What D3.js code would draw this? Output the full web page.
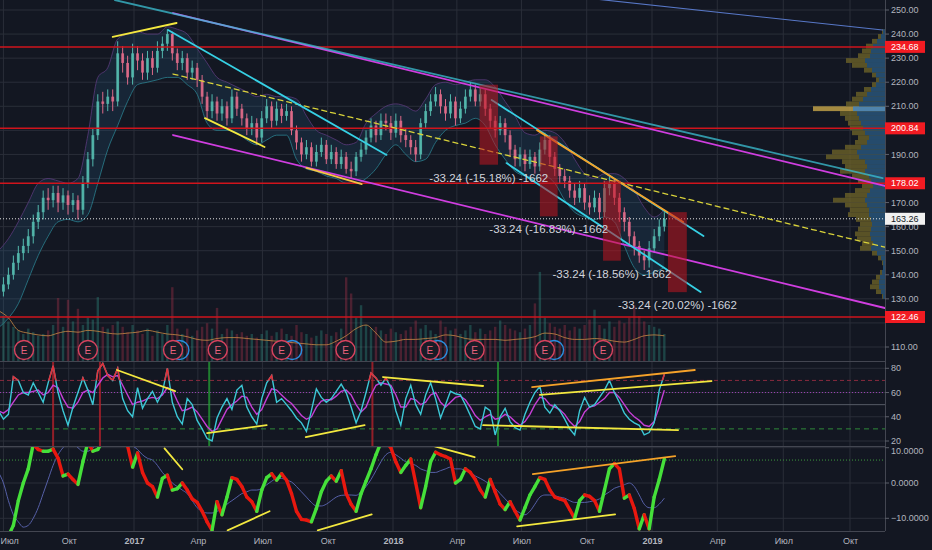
<!doctype html>
<html>
<head>
<meta charset="utf-8">
<title>Price chart with RSI and oscillator</title>
<script src="https://cdn.jsdelivr.net/npm/d3@7"></script>
<style>
  html, body { margin: 0; padding: 0; background: #131722; }
  svg { display: block; font-family: "Liberation Sans", Arial, sans-serif; }
</style>
</head>
<body>
<script>
// ---- data (weekly bars from 2016-06-24) ----
const firstWeek = "2016-06-24";
const firstOpen = 130;
const closes = [
  133,136,140,145,149,152,156,162,166,172,171,174,170,173,
  169,171,167,178,188,198,212,211,214,212,232,228,222,
  232,229,224,230,226,233,236,240,232,228,230,224,226,
  221,214,208,212,207,210,205,214,209,205,201,203,197,
  205,210,204,209,206,208,200,195,190,193,187,191,194,
  188,191,186,189,184,183,189,192,197,202,198,204,203,
  199,204,198,196,193,190,203,208,212,215,210,207,212,
  205,209,214,217,212,215,209,204,200,203,198,192,188,
  190,186,189,185,192,196,189,184,181,179,175,172,176,
  170,168,172,166,176,178,172,166,162,156,152,148,146,
  151,156,160,163.26];
const highs = [
  136,139,143,148,152,155,159,165,169,175,176,177,177,176,
  175,174,173,181,191,201,215,216,217,217,237,235,231,
  236,235,232,233,233,237,239,242,241,234,233,232,229,
  228,223,216,215,214,213,212,217,216,211,207,206,205,
  208,213,212,212,211,211,210,202,197,196,195,194,197,
  196,194,193,192,191,187,191,195,200,205,204,207,207,
  206,207,206,201,198,196,205,211,215,218,217,213,215,
  214,212,217,220,219,218,217,211,206,206,205,200,194,
  193,192,192,191,195,199,198,191,186,184,181,178,179,
  178,173,175,174,179,181,180,174,168,164,158,154,150,
  154,159,163,166];
const lows = [
  127,131,134,138,142,146,149,153,159,163,167,168,166,167,
  165,166,163,165,176,185,196,207,208,208,210,224,219,
  219,225,221,221,223,224,230,233,229,225,225,221,221,
  218,211,205,205,204,204,202,203,206,202,198,198,194,
  195,203,201,202,203,204,198,192,187,188,185,185,189,
  186,186,184,184,182,180,181,187,190,195,195,196,200,
  196,197,195,193,190,187,188,201,206,210,207,204,205,
  202,203,207,212,210,210,206,201,197,198,195,189,185,
  185,183,184,182,183,190,186,181,178,176,172,169,170,
  167,165,166,163,164,173,169,162,158,152,148,145,142,
  143,149,154,158];
const volumes = [
  52,50,44,38,34,30,36,32,28,30,34,40,70,38,
  68,44,58,40,48,46,71,38,36,40,44,38,32,
  40,34,30,36,28,34,30,40,82,36,30,36,28,
  34,38,42,36,59,30,36,34,30,32,28,30,26,
  30,34,28,32,36,30,28,40,32,30,26,28,34,
  30,28,32,36,93,75,48,62,40,36,38,34,30,
  36,32,30,34,38,45,36,40,34,30,45,38,34,
  36,30,34,40,32,36,30,34,38,45,40,36,34,
  32,36,40,64,99,48,42,38,36,40,34,38,36,
  40,46,57,40,36,44,38,45,42,48,62,50,44,
  40,38,36,30];
// every second week
const volumeAvg = [
  56,48,34,31,29,28,31,33,32,34,
  33,31,30,31,32,34,32,30,29,27,
  24,23,25,26,26,25,24,23,22,21,
  20,19,18,18,22,28,36,40,31,21,
  22,24,24,25,26,29,28,25,24,24,
  24,23,24,25,27,31,30,26,24,24,
  25,24,22,21,24,28,29,28];
const bandUpper = [
  150,155,162,170,178,180,179,178,180,198,
  222,226,238,240,241,240,240,243,242,240,
  234,228,222,220,218,216,214,215,214,214,
  213,206,200,198,196,194,195,203,207,210,
  211,210,208,213,219,220,219,220,221,221,
  218,212,206,199,198,200,199,195,188,182,
  180,182,182,180,175,168,164,167];
const bandLower = [
  118,122,128,138,148,156,162,163,162,165,
  178,192,202,212,219,220,221,222,222,219,
  215,203,200,200,199,196,194,196,198,198,
  188,184,183,181,180,178,178,180,184,190,
  194,190,187,188,195,200,202,203,205,202,
  194,188,183,181,180,181,178,171,166,164,
  163,164,162,152,143,140,141,143];
const rsi = [
  45,38,42,73,70,60,58,68,60,52,68,82,60,45,
  33,48,60,72,62,50,78,84,74,70,80,55,45,
  40,64,47,55,61,52,60,80,52,40,34,55,50,
  37,30,22,20,39,48,55,46,62,66,48,40,34,
  55,68,74,52,55,50,45,39,35,28,45,63,56,
  52,55,61,67,60,48,35,45,60,76,72,66,72,
  64,45,33,55,66,50,42,58,68,55,39,50,61,
  59,58,50,41,32,30,48,45,25,40,47,36,31,
  29,42,52,60,65,48,43,50,45,38,30,25,45,
  56,48,50,56,62,70,60,52,43,38,35,33,25,
  27,35,62,75];
const rsiAvg = [
  45,43,46,52,58,60,60,61,62,58,60,66,64,55,
  48,47,52,60,62,60,66,72,75,73,74,66,58,
  50,52,53,55,56,55,58,64,62,53,45,46,48,
  44,38,32,28,30,38,46,50,53,57,56,48,42,
  46,55,63,62,58,54,51,46,41,38,40,48,53,
  54,54,57,61,62,58,50,44,48,58,66,68,67,
  66,58,48,48,55,54,50,52,58,60,52,48,52,
  56,57,54,48,41,37,40,42,38,39,42,40,36,
  33,36,42,50,56,55,50,48,46,42,36,32,36,
  44,48,49,52,55,60,60,56,50,44,40,37,33,
  32,36,48,62];
const osc = [
  -16,-16,-15,-12,-5,0,4,11,9.5,9,9,9.6,7,2,
  2.5,1,-0.4,6,11.5,9,9.5,12,14,14,15,13,10.5,
  4.5,8.5,3,0,-1,-4,1.3,2.2,-2,-1.6,0,-2,-4.5,
  -5.5,-8,-11,-13.4,-5.3,-9,-4,1.5,1,-1,-4,-5.3,-8,
  -2,1.5,2.6,0.8,2.6,0.8,-3,-8,-10.3,-10.5,-11,-7.2,-2.5,
  0.5,2,0.5,3.5,-3,-6,-8,-3,0.5,4,8,11.5,11.5,
  10,6,3,5,6.8,0,-7,-1,6,8.7,8,7.5,6.8,
  0,1,4,3,1,-2,-4,1,-2.5,-6,-7.5,-5.3,-8,
  -10.5,-7,-3.4,-1,1.5,1,-2,-4,-4.5,-5,-7.5,-10,-5,
  -3.4,-3.8,-5,-8,-2,4,5.5,4,-4.3,-3.4,-7.2,-13,-9,
  -13,-4,1,6.8];
const oscSignal = [
  3,0,-5,-9,-11,-12.5,-12,-10,-7,-3,1,5,8,10,
  11,11,10,9,9,10,11,12,12,12,12,12,11.5,
  10.5,9.5,8,7,6.5,5,3,1.5,0,-1,-2,-3,-5,
  -7,-8,-8.5,-8.5,-8,-7.5,-6,-5,-4,-3,-2.5,-2,-2,
  -1.6,-0.5,0.5,1.3,1.3,0.8,0.3,-1,-2.5,-4,-5.5,-6.5,-6.5,
  -6,-5,-4,-3.5,-3.4,-3.4,-3.5,-2.5,-1,1,3.5,6,8,
  8.7,8,7,6,5.5,5,4,3.5,3,3,3.5,4,4.5,
  4,4,3.5,3,2,1.3,0.5,-0.5,-1.5,-3,-4.5,-6,-7.5,
  -8.5,-9,-8,-6,-4,-3.4,-3.4,-3.6,-4,-4.3,-5,-5.5,-5.5,
  -5.5,-5.3,-5,-4.5,-3.4,-2.5,-1.5,-1,-0.5,0,-1,-3.4,-6,
  -7,-7,-6,-4.3];

// volume profile (price bin centre, total, buy part)
const profPrices = [131,133,135,137,139,141,143,145,147,149,151,153,155,157,159,161,163,165,167,169,
  171,173,175,177,179,181,183,185,187,189,191,193,195,197,199,201,203,205,207,209,
  211,213,215,217,219,221,223,225,227,229,231,233,235,237,239,241];
const profTotal = [3,9,15,13,9,5,2,3,7,13,25,23,28,30,27,25,29,37,35,40,
  52,40,30,23,27,33,45,40,43,59,53,40,30,27,33,35,37,40,45,72,
  39,33,29,21,13,9,13,21,33,39,27,23,19,13,7,3];
const profUp = [2,4,6,6,5,3,2,2,4,8,14,12,14,15,14,13,14,16,16,18,
  20,18,15,12,14,16,20,18,20,26,28,24,18,16,20,22,24,26,28,32,
  26,22,18,14,9,6,9,13,18,20,15,14,12,8,4,2];

const levelPrices = [234.68, 200.84, 178.02, 122.46];
const lastPrice = 163.26;
const earnings = ["2016-07-30","2016-10-28","2017-02-25","2017-04-29","2017-07-28",
  "2017-10-26","2018-02-22","2018-04-26","2018-08-03","2018-10-24"];
const dividends = ["2017-03-06","2017-08-12","2018-03-05","2018-08-16"];

const dropStarts = ["2018-05-03","2018-07-27","2018-10-24","2019-01-23"];
const dropEnds = ["2018-05-29","2018-08-21","2018-11-18","2019-02-18"];
const dropTops = [218.97, 197.51, 179.09, 166.03];
const dropSize = 33.24;
const dropBars = 1662;

const priceLines = [
  {kind: "blue", a: ["2018-10-01", 254.94], b: ["2019-11-15", 241.7]},
  {kind: "magenta", a: ["2017-02-25", 248.75], b: ["2019-11-18", 176.9]},
  {kind: "cyanSoft", a: ["2016-12-05", 254.15], b: ["2019-11-15", 180.2]},
  {kind: "magenta", a: ["2017-02-25", 198.07], b: ["2019-11-18", 126.2]},
  {kind: "dashed", a: ["2017-02-25", 223.4], b: ["2019-11-18", 151.5]},
  {kind: "cyan", a: ["2017-02-18", 241.7], b: ["2017-12-23", 189.8]},
  {kind: "cyan", a: ["2018-05-20", 212.6], b: ["2019-03-13", 156.1]},
  {kind: "orange", a: ["2018-07-23", 200.1], b: ["2019-02-13", 161.9]},
  {kind: "cyan", a: ["2018-06-10", 186.4], b: ["2019-03-09", 132.8]},
  {kind: "yellow", a: ["2016-12-02", 238.8], b: ["2017-03-02", 244.6]},
  {kind: "yellow", a: ["2017-04-11", 205.1], b: ["2017-07-04", 193.1]},
  {kind: "gold", a: ["2017-09-01", 184.4], b: ["2017-11-18", 177.7]}
];
const rsiLines = [
  {kind: "yellow", a: ["2016-12-08", 78.6], b: ["2017-02-28", 61.2]},
  {kind: "yellow", a: ["2017-04-14", 26.5], b: ["2017-07-07", 33.1]},
  {kind: "yellow", a: ["2017-08-31", 23.2], b: ["2017-11-22", 33.1]},
  {kind: "yellow", a: ["2017-12-18", 72.8], b: ["2018-05-08", 65.4]},
  {kind: "orange", a: ["2018-07-16", 64.5], b: ["2019-03-01", 78.6]},
  {kind: "yellow", a: ["2018-07-27", 58], b: ["2019-03-24", 69.5]},
  {kind: "yellow", a: ["2018-05-08", 33.1], b: ["2019-02-06", 29]}
];
const oscLines = [
  {kind: "yellow", a: ["2017-02-13", 9.8], b: ["2017-03-10", 3.9]},
  {kind: "yellow", a: ["2017-05-13", -13.4], b: ["2017-07-11", -8]},
  {kind: "yellow", a: ["2017-09-17", -13.4], b: ["2017-12-02", -8.9]},
  {kind: "yellow", a: ["2018-03-01", 10.4], b: ["2018-04-26", 7.3]},
  {kind: "orange", a: ["2018-07-17", 2.5], b: ["2019-02-02", 7.6]},
  {kind: "yellow", a: ["2018-06-25", -12.3], b: ["2018-11-10", -8.9]}
];
const rsiMarks = [["2016-09-09","red"],["2016-11-14","red"],["2017-04-17","green"],["2017-12-03","red"],["2018-05-29","green"]];

const tickDates = ["2016-07-01","2016-10-01","2017-01-01","2017-04-01","2017-07-01","2017-10-01",
  "2018-01-01","2018-04-01","2018-07-01","2018-10-01","2019-01-01","2019-04-01","2019-07-01","2019-10-01"];
const tickLabels = ["Июл","Окт","2017","Апр","Июл","Окт","2018","Апр","Июл","Окт","2019","Апр","Июл","Окт"];
const priceTicks = [110,120,130,140,150,160,170,180,190,200,210,220,230,240,250];
const rsiTicks = [20,40,60,80];
const oscTicks = [-10,0,10];

// ---- layout ----
const W = 932, H = 550;
const plotR = 885;
const mainBot = 361, rsiTop = 361, rsiBot = 446, oscTop = 446, oscBot = 531;
const parse = d3.timeParse("%Y-%m-%d");
const start = parse(firstWeek);
const weekDate = i => d3.timeDay.offset(start, 7 * i);

const x = d3.scaleTime()
  .domain([parse("2017-01-01"), parse("2019-01-01"), parse("2019-10-01")])
  .range([134, 652, 850]);
const y = d3.scaleLinear().domain([110, 250]).range([347, 10]);
const yR = d3.scaleLinear().domain([20, 80]).range([441, 368.3]);
const yO = d3.scaleLinear().domain([-10, 10]).range([518.3, 447.7]);
const yV = d3.scaleLinear().domain([0, 100]).range([mainBot, mainBot - 90]);
const vpW = d3.scaleLinear().domain([0, 80]).range([0, 80]);

const styles = {
  blue:     {stroke: "#5878c8", w: 1.1},
  magenta:  {stroke: "#d03ee0", w: 1.8},
  cyanSoft: {stroke: "#3cc2d4", w: 1.8, op: 0.75},
  cyan:     {stroke: "#36d0e4", w: 1.8},
  orange:   {stroke: "#f5a229", w: 1.8},
  yellow:   {stroke: "#f3e83f", w: 1.8},
  gold:     {stroke: "#f6c445", w: 1.8},
  dashed:   {stroke: "#d8d23a", w: 1.3, dash: "5,4"}
};

const bars = closes.map((c, i) => ({
  d: weekDate(i), o: i ? closes[i - 1] : firstOpen, c: c, h: highs[i], l: lows[i], v: volumes[i]
}));

const svg = d3.select("body").append("svg").attr("width", W).attr("height", H);
svg.append("rect").attr("width", W).attr("height", H).attr("fill", "#131722");

const defs = svg.append("defs");
function addClip(id, y0, y1) {
  defs.append("clipPath").attr("id", id).append("rect")
    .attr("x", 0).attr("y", y0).attr("width", plotR).attr("height", y1 - y0);
}
addClip("cMain", 0, mainBot);
addClip("cRsi", rsiTop, rsiBot);
addClip("cOsc", oscTop, oscBot);
addClip("cHot", rsiTop, yR(70));

// grid
const grid = svg.append("g").attr("stroke", "#2a2e39").attr("stroke-width", 1);
grid.selectAll(".vg").data(tickDates).join("line")
  .attr("x1", d => x(parse(d))).attr("x2", d => x(parse(d)))
  .attr("y1", 0).attr("y2", oscBot);
grid.selectAll(".hp").data(priceTicks).join("line").attr("class", "hp")
  .attr("x1", 0).attr("x2", plotR).attr("y1", d => y(d)).attr("y2", d => y(d));
grid.selectAll(".hr").data(rsiTicks).join("line").attr("class", "hr")
  .attr("x1", 0).attr("x2", plotR).attr("y1", d => yR(d)).attr("y2", d => yR(d));
grid.selectAll(".ho").data(oscTicks).join("line").attr("class", "ho")
  .attr("x1", 0).attr("x2", plotR).attr("y1", d => yO(d)).attr("y2", d => yO(d));

// ---- main panel ----
const main = svg.append("g").attr("clip-path", "url(#cMain)");

// band
const bandPts = bandUpper.map((u, k) => ({d: weekDate(2 * k), u: u, l: bandLower[k]}));
main.append("path").datum(bandPts)
  .attr("d", d3.area().curve(d3.curveMonotoneX).x(p => x(p.d)).y0(p => y(p.l)).y1(p => y(p.u)))
  .attr("fill", "#2a6f9a").attr("fill-opacity", 0.18);
["u", "l"].forEach(key => {
  main.append("path").datum(bandPts)
    .attr("d", d3.line().curve(d3.curveMonotoneX).x(p => x(p.d)).y(p => y(p[key])))
    .attr("fill", "none").attr("stroke", key === "u" ? "#5a3a7a" : "#2b7f8f")
    .attr("stroke-width", 1).attr("stroke-opacity", 0.8);
});

// volume
main.selectAll(".vol").data(bars).join("rect")
  .attr("x", b => x(b.d) - 1.2).attr("width", 2.4)
  .attr("y", b => yV(b.v)).attr("height", b => yV(0) - yV(b.v))
  .attr("fill", b => b.c >= b.o ? "#2f8f80" : "#a8324a").attr("fill-opacity", 0.38);
main.append("path").datum(volumeAvg)
  .attr("d", d3.line().curve(d3.curveMonotoneX).x((v, k) => x(weekDate(2 * k))).y(v => yV(v)))
  .attr("fill", "none").attr("stroke", "#c98a45").attr("stroke-width", 1).attr("stroke-opacity", 0.8);

// volume profile
const pocIdx = d3.maxIndex(profTotal);
const prof = main.append("g");
profPrices.forEach((p, i) => {
  const top = y(p + 1), h = y(p - 1) - y(p + 1);
  prof.append("rect").attr("x", plotR - vpW(profTotal[i])).attr("width", vpW(profTotal[i]))
    .attr("y", top).attr("height", h)
    .attr("fill", i === pocIdx ? "#c9a84a" : "#6c6128").attr("fill-opacity", 0.8);
  prof.append("rect").attr("x", plotR - vpW(profUp[i])).attr("width", vpW(profUp[i]))
    .attr("y", top).attr("height", h)
    .attr("fill", i === pocIdx ? "#4683b8" : "#1f4a74").attr("fill-opacity", 0.9);
});

// candles
const candles = main.append("g");
candles.selectAll(".wick").data(bars).join("line")
  .attr("x1", b => x(b.d)).attr("x2", b => x(b.d))
  .attr("y1", b => y(b.h)).attr("y2", b => y(b.l))
  .attr("stroke", b => b.c >= b.o ? "#53b8ad" : "#dd6a88").attr("stroke-width", 1);
candles.selectAll(".body").data(bars).join("rect")
  .attr("x", b => x(b.d) - 1.4).attr("width", 2.8)
  .attr("y", b => y(Math.max(b.o, b.c)))
  .attr("height", b => Math.max(1, Math.abs(y(b.o) - y(b.c))))
  .attr("fill", b => b.c >= b.o ? "#53b8ad" : "#dd6a88").attr("fill-opacity", 0.9);

// earnings / dividends
main.selectAll(".div").data(dividends).join("circle")
  .attr("cx", d => x(parse(d))).attr("cy", mainBot - 11).attr("r", 9.5)
  .attr("fill", "none").attr("stroke", "#2a8fe0").attr("stroke-width", 1.4);
const eg = main.selectAll(".earn").data(earnings).join("g")
  .attr("transform", d => `translate(${x(parse(d))},${mainBot - 11})`);
eg.append("circle").attr("r", 9.5).attr("fill", "#1a1c27").attr("stroke", "#d8435f").attr("stroke-width", 1.4);
eg.append("text").text("E").attr("text-anchor", "middle").attr("dy", "0.35em")
  .attr("fill", "#e8627c").attr("font-size", 10);

// horizontal levels
main.selectAll(".lvl").data(levelPrices).join("line")
  .attr("x1", 0).attr("x2", plotR).attr("y1", d => y(d)).attr("y2", d => y(d))
  .attr("stroke", "#d0141c").attr("stroke-width", 1.5);
main.append("line").attr("x1", 0).attr("x2", plotR).attr("y1", y(lastPrice)).attr("y2", y(lastPrice))
  .attr("stroke", "#e6e6e6").attr("stroke-width", 1).attr("stroke-dasharray", "1,2");

// trend lines
function drawLines(g, list, sy) {
  g.selectAll(null).data(list).join("line")
    .attr("x1", l => x(parse(l.a[0]))).attr("y1", l => sy(l.a[1]))
    .attr("x2", l => x(parse(l.b[0]))).attr("y2", l => sy(l.b[1]))
    .attr("stroke", l => styles[l.kind].stroke)
    .attr("stroke-width", l => styles[l.kind].w)
    .attr("stroke-opacity", l => styles[l.kind].op || 1)
    .attr("stroke-dasharray", l => styles[l.kind].dash || null)
    .attr("stroke-linecap", "round");
}
drawLines(main.append("g"), priceLines, y);

// drop boxes
const drops = dropTops.map((t, i) => ({s: parse(dropStarts[i]), e: parse(dropEnds[i]), top: t}));
main.selectAll(".drop").data(drops).join("rect")
  .attr("x", d => x(d.s)).attr("width", d => x(d.e) - x(d.s))
  .attr("y", d => y(d.top)).attr("height", d => y(d.top - dropSize) - y(d.top))
  .attr("fill", "#c01520").attr("fill-opacity", 0.55);
main.selectAll(".dropLbl").data(drops).join("text")
  .attr("x", d => (x(d.s) + x(d.e)) / 2).attr("y", d => y(d.top - dropSize) + 13)
  .attr("text-anchor", "middle").attr("dy", "0.35em")
  .attr("fill", "#d1d4dc").attr("font-size", 11.5)
  .text(d => `-${dropSize.toFixed(2)} (-${(dropSize / d.top * 100).toFixed(2)}%) -${dropBars}`);

// ---- RSI panel ----
const rp = svg.append("g").attr("clip-path", "url(#cRsi)");
const lvl = [[70, "#8a2a3e", "4,3"], [60, "#9c3fb5", "1,2"], [50, "#565a66", null], [30, "#2f8a3a", "5,4"]];
rp.selectAll(".rl").data(lvl).join("line")
  .attr("x1", 0).attr("x2", plotR).attr("y1", d => yR(d[0])).attr("y2", d => yR(d[0]))
  .attr("stroke", d => d[1]).attr("stroke-width", 1).attr("stroke-dasharray", d => d[2]);
rp.selectAll(".rm").data(rsiMarks).join("rect")
  .attr("x", d => x(parse(d[0])) - 1).attr("width", 2)
  .attr("y", rsiTop).attr("height", rsiBot - rsiTop)
  .attr("fill", d => d[1] === "red" ? "#b3202a" : "#239a33").attr("fill-opacity", 0.8);
const rsiLine = d3.line().x((v, i) => x(weekDate(i))).y(v => yR(v));
rp.append("path").datum(rsiAvg).attr("d", rsiLine)
  .attr("fill", "none").attr("stroke", "#c53fd6").attr("stroke-width", 1.4);
rp.append("path").datum(rsi).attr("d", rsiLine)
  .attr("fill", "none").attr("stroke", "#3cc8d6").attr("stroke-width", 1.4);
rp.append("g").attr("clip-path", "url(#cHot)").append("path").datum(rsi).attr("d", rsiLine)
  .attr("fill", "none").attr("stroke", "#e0303a").attr("stroke-width", 1.6);
drawLines(rp.append("g"), rsiLines, yR);

// ---- oscillator panel ----
const op = svg.append("g").attr("clip-path", "url(#cOsc)");
op.append("line").attr("x1", 0).attr("x2", plotR).attr("y1", yO(6.5)).attr("y2", yO(6.5))
  .attr("stroke", "#3c9a3c").attr("stroke-width", 1).attr("stroke-dasharray", "1,2");
op.append("path").datum(oscSignal)
  .attr("d", d3.line().curve(d3.curveMonotoneX).x((v, i) => x(weekDate(i))).y(v => yO(v)))
  .attr("fill", "none").attr("stroke", "#5660a8").attr("stroke-width", 1);
const segs = d3.pairs(osc.map((v, i) => ({d: weekDate(i), v: v})));
op.selectAll(".seg").data(segs).join("line")
  .attr("x1", s => x(s[0].d)).attr("y1", s => yO(s[0].v))
  .attr("x2", s => x(s[1].d)).attr("y2", s => yO(s[1].v))
  .attr("stroke", s => s[1].v >= s[0].v ? "#45e03a" : "#e8180f")
  .attr("stroke-width", 3.4).attr("stroke-linecap", "round");
drawLines(op.append("g"), oscLines, yO);

// ---- frames ----
const frame = svg.append("g").attr("stroke", "#434651").attr("stroke-width", 1);
frame.append("line").attr("x1", 0).attr("x2", plotR).attr("y1", rsiTop + 0.5).attr("y2", rsiTop + 0.5);
frame.append("line").attr("x1", 0).attr("x2", plotR).attr("y1", oscTop + 0.5).attr("y2", oscTop + 0.5);
frame.append("line").attr("x1", 0).attr("x2", plotR).attr("y1", oscBot + 0.5).attr("y2", oscBot + 0.5);
frame.append("line").attr("x1", plotR + 0.5).attr("x2", plotR + 0.5).attr("y1", 0).attr("y2", oscBot);

// ---- right axes ----
const axisTxt = "#b2b5be";
const tagPrices = levelPrices.concat([lastPrice]);
const ax = svg.append("g").attr("font-size", 9).attr("fill", axisTxt);
// labels are kept inside their own pane (y0..y1)
function axisLabels(vals, sy, fmt, y0, y1) {
  vals.forEach(v => {
    ax.append("line").attr("x1", plotR).attr("x2", plotR + 4).attr("y1", sy(v)).attr("y2", sy(v))
      .attr("stroke", "#5d606b");
    ax.append("text").attr("x", plotR + 6).attr("y", Math.min(y1 - 5, Math.max(y0 + 5, sy(v))))
      .attr("dy", "0.35em").text(fmt(v));
  });
}
// price labels hidden behind a tag are not drawn
axisLabels(priceTicks.filter(v => tagPrices.every(t => Math.abs(y(v) - y(t)) > 7.5)), y, d3.format(".2f"), 0, mainBot);
axisLabels(rsiTicks, yR, d3.format("d"), rsiTop, rsiBot);
axisLabels(oscTicks, yO, d3.format(".4f"), oscTop, oscBot);

const tags = levelPrices.map(p => ({p: p, bg: "#f21b22", fg: "#ffffff"}))
  .concat([{p: lastPrice, bg: "#f0f0f0", fg: "#131722"}]);
const tg = svg.selectAll(".tag").data(tags).join("g")
  .attr("transform", t => `translate(${plotR},${y(t.p)})`);
tg.append("rect").attr("x", 0).attr("y", -6).attr("width", 40).attr("height", 12).attr("fill", t => t.bg);
tg.append("text").attr("x", 6).attr("dy", "0.35em").attr("font-size", 9)
  .attr("fill", t => t.fg).text(t => d3.format(".2f")(t.p));

// ---- time axis ----
const xAxis = svg.append("g").attr("transform", `translate(0,${oscBot})`)
  .call(d3.axisBottom(x).tickValues(tickDates.map(parse))
    .tickFormat((d, i) => tickLabels[i]).tickSize(0).tickPadding(7));
xAxis.select(".domain").remove();
xAxis.selectAll("text")
  .attr("fill", axisTxt).attr("font-size", 9)
  .attr("font-family", "'Liberation Sans', Arial, sans-serif")
  .attr("font-weight", (d, i) => /^\d{4}$/.test(tickLabels[i]) ? "bold" : null);
xAxis.select(".tick text").attr("text-anchor", "start").attr("x", -x(parse(tickDates[0])));
</script>
</body>
</html>
